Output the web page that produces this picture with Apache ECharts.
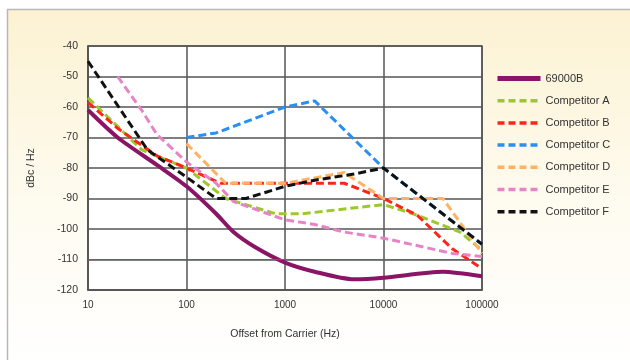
<!DOCTYPE html>
<html><head><meta charset="utf-8">
<script src="https://cdn.jsdelivr.net/npm/echarts@6/dist/echarts.min.js"></script>
<style>html,body{margin:0;padding:0;background:#fff}#c{width:630px;height:360px}</style>
</head><body><div id="c"></div>
<script>
var seriesNames = ['69000B','Competitor A','Competitor B','Competitor C','Competitor D','Competitor E','Competitor F'];
var xTicks = [10,100,1000,10000,100000];
var yTicks = [-40,-50,-60,-70,-80,-90,-100,-110,-120];
var s69000B = [[10,-61],[20,-70],[50,-79],[100,-86],[200,-95],[300,-101],[500,-106],[1000,-111],[2000,-114],[5000,-116.5],[10000,-116],[40000,-114],[100000,-115.5]];
var compA = [[10,-57],[35,-74],[100,-80],[250,-90],[800,-95],[1500,-95],[10000,-92],[20000,-95],[60000,-101],[100000,-107]];
var compB = [[10,-58.5],[20,-67],[50,-76],[100,-80],[220,-85],[4000,-85],[10000,-90],[22000,-95.5],[50000,-106.5],[100000,-113]];
var compC = [[100,-70],[200,-68.5],[1000,-60],[2000,-58],[10000,-80],[100000,-105]];
var compD = [[100,-72],[250,-85],[1000,-85],[4000,-81.5],[10000,-90],[40000,-90],[100000,-108]];
var compE = [[20,-50],[35,-61],[50,-69],[100,-78],[200,-85],[300,-91],[1000,-97],[2000,-98.5],[4000,-101],[10000,-103],[50000,-108],[100000,-109]];
var compF = [[10,-45],[40,-74],[100,-83],[200,-90],[400,-90],[1000,-86],[2000,-84],[5000,-82],[10000,-80],[100000,-105]];
var refLine = -110;

var dataSets = [s69000B, compA, compB, compC, compD, compE, compF];
var colors = ['#8a1466','#9cc82a','#ff2419','#2a8ff0','#ffb264','#e685c6','#111111'];
var font = 'Liberation Sans';
var series = dataSets.map(function(d,i){
  return {
    name: seriesNames[i], type:'line', data:d, symbol:'none', showSymbol:false,
    smooth: i===0 ? 0.25 : 0,
    lineStyle:{color:colors[i], width: i===0?4:3, type: i===0?'solid':[8,4]},
    itemStyle:{color:colors[i]},
    z: i===0?3:4
  };
});
series.push({type:'line',data:[],silent:true,z:5,
  markLine:{symbol:'none',silent:true,label:{show:false},
    lineStyle:{color:'#c0385a',width:1.2,type:'solid'},data:[{yAxis:refLine}]}});

var chart = echarts.init(document.getElementById('c'), null, {renderer:'canvas'});
chart.setOption({
  backgroundColor:'#ffffff',
  animation:false,
  graphic:[{type:'rect',z:-10,silent:true,shape:{x:7.5,y:9.5,width:640,height:360},
    style:{fill:new echarts.graphic.LinearGradient(0,0,0,1,[{offset:0,color:'#fcf2d2'},{offset:0.55,color:'#fefbf0'},{offset:1,color:'#ffffff'}]),
      stroke:'#b8b8b8',lineWidth:1.5}}],
  grid:{left:88,top:46,width:394,height:244,backgroundColor:'#ffffff',show:true,borderColor:'#555',borderWidth:1.5},
  legend:{orient:'vertical',left:495,top:73,padding:0,itemWidth:43,itemHeight:12,itemGap:11.2,
    data:seriesNames.map(function(n,i){
      return {name:n, lineStyle:{width: i===0?5:3.5, color:colors[i], type: i===0?'solid':[7,4]}};
    }),
    itemStyle:{opacity:0},
    textStyle:{fontFamily:font,fontSize:11,color:'#333'}},
  xAxis:{type:'log',logBase:10,min:10,max:100000,
    name:'Offset from Carrier (Hz)',nameLocation:'middle',nameGap:39,
    nameTextStyle:{fontFamily:font,fontSize:10.5,color:'#333'},
    axisLine:{lineStyle:{color:'#555',width:1.5}},axisTick:{show:false},
    axisLabel:{fontFamily:font,fontSize:10,color:'#333',margin:10,
      formatter:function(v){return String(Math.round(v));}},
    splitLine:{show:true,lineStyle:{color:'#555',width:1.5}},minorSplitLine:{show:false}},
  yAxis:{type:'value',min:-120,max:-40,interval:10,
    name:'dBc / Hz',nameLocation:'middle',nameGap:51,nameRotate:90,
    nameTextStyle:{fontFamily:font,fontSize:10.5,color:'#333'},
    axisLine:{show:true,lineStyle:{color:'#555',width:1.5}},axisTick:{show:false},
    axisLabel:{fontFamily:font,fontSize:10.5,color:'#333',margin:10},
    splitLine:{show:true,lineStyle:{color:'#555',width:1.5}}},
  series:series
});
</script></body></html>
